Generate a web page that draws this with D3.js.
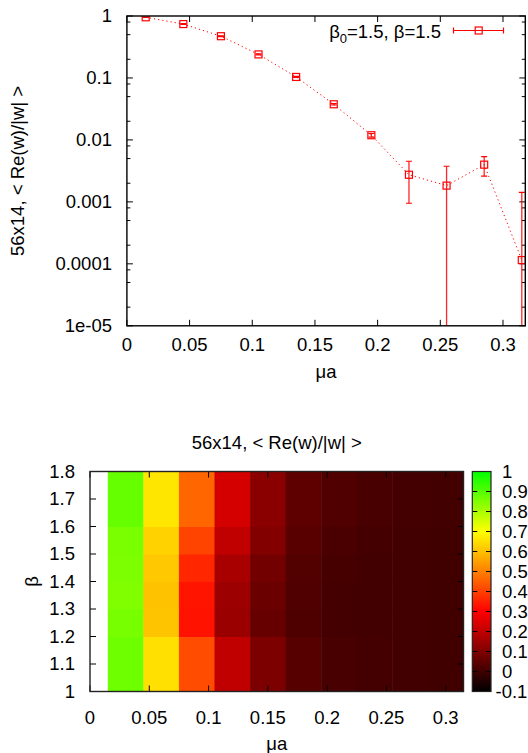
<!DOCTYPE html>
<html><head><meta charset="utf-8">
<script src="https://cdn.jsdelivr.net/npm/d3@7"></script>
<style>
body{margin:0;background:#fff}
text{font-family:"Liberation Sans",Arial,Helvetica,sans-serif;font-size:18.5px;fill:#000}
</style>
</head><body>
<svg id="c" width="528" height="753" xmlns="http://www.w3.org/2000/svg"></svg>
<script>
// ---------- data: top panel ----------
const muA      = [0.015,0.045,0.075,0.105,0.135,0.165,0.195,0.225,0.255,0.285,0.315];
const reW      = [0.953,0.741,0.472,0.240,0.1038,0.0376,0.0119,0.00274,0.00183,0.00399,0.000115];
const reWErr   = [0.006,0.010,0.008,0.005,0.0020,0.0010,0.0008,0.00179,0.00193,0.00138,0.00131];
const topYTicks  = [1,0.1,0.01,0.001,0.0001,0.00001];
const topYLabels = ["1","0.1","0.01","0.001","0.0001","1e-05"];
const xTicks     = [0,0.05,0.1,0.15,0.2,0.25,0.3];
const xLabels    = ["0","0.05","0.1","0.15","0.2","0.25","0.3"];
const legendLabel = ["β","0","=1.5, β=1.5"];
const yLabelText = "56x14, < Re(w)/|w| >";

// ---------- data: heat map ----------
const muEdges   = [0.015,0.045,0.075,0.105,0.135,0.165,0.195,0.225,0.255,0.285,0.315];
const betaEdges = [1.0,1.2,1.3,1.4,1.5,1.6,1.8];
// rows from bottom (beta 1.0-1.2) to top (beta 1.6-1.8), columns in mu order
const cellValues = [
  [0.870,0.651,0.419,0.201,0.095,0.035,0.013,0.007,0.004,0.001],
  [0.860,0.607,0.328,0.142,0.060,0.022,0.007,0.004,0.004,0.000],
  [0.850,0.604,0.331,0.145,0.066,0.025,0.007,0.004,0.004,0.000],
  [0.854,0.614,0.360,0.164,0.079,0.029,0.010,0.004,0.004,0.000],
  [0.856,0.630,0.407,0.201,0.104,0.038,0.016,0.007,0.004,0.001],
  [0.880,0.661,0.460,0.233,0.116,0.047,0.025,0.013,0.007,0.003]
];
const betaTicks  = [1,1.1,1.2,1.3,1.4,1.5,1.6,1.7,1.8];
const betaLabels = ["1","1.1","1.2","1.3","1.4","1.5","1.6","1.7","1.8"];
const cbTicks    = [1,0.9,0.8,0.7,0.6,0.5,0.4,0.3,0.2,0.1,0,-0.1];
const cbLabels   = ["1","0.9","0.8","0.7","0.6","0.5","0.4","0.3","0.2","0.1","0","-0.1"];
const paletteStops = [-0.1,0.3,0.7,1];
const paletteColors = ["#000000","#ff0000","#ffff00","#00ff00"];
const heatTitle = "56x14, < Re(w)/|w| >";

const svg = d3.select("#c");
const red = "#ff0000";

// ================= TOP PANEL =================
const T = {l:126.9, r:525.3, t:16, b:325.8};
const x1 = d3.scaleLinear().domain([0,0.3178]).range([T.l,T.r]);
const y1 = d3.scaleLog().domain([1e-5,1]).range([T.b,T.t]);

svg.append("clipPath").attr("id","clipTop").append("rect")
  .attr("x",T.l).attr("y",T.t).attr("width",T.r-T.l).attr("height",T.b-T.t);

const gTop = svg.append("g");
// ticks (mirrored, inward)
const minorVals = [];
for (let e=-5; e<0; e++) [2,5,8].forEach(m => minorVals.push(m*Math.pow(10,e)));
minorVals.forEach(v => {
  const yy = y1(v);
  gTop.append("line").attr("x1",T.l).attr("x2",T.l+3.5).attr("y1",yy).attr("y2",yy).attr("stroke","#000");
  gTop.append("line").attr("x1",T.r).attr("x2",T.r-3.5).attr("y1",yy).attr("y2",yy).attr("stroke","#000");
});
topYTicks.forEach((v,i) => {
  const yy = y1(v);
  gTop.append("line").attr("x1",T.l).attr("x2",T.l+6).attr("y1",yy).attr("y2",yy).attr("stroke","#000");
  gTop.append("line").attr("x1",T.r).attr("x2",T.r-6).attr("y1",yy).attr("y2",yy).attr("stroke","#000");
  gTop.append("text").attr("x",112).attr("y",yy).attr("dy","0.35em").attr("text-anchor","end").text(topYLabels[i]);
});
xTicks.forEach((v,i) => {
  const xx = x1(v);
  gTop.append("line").attr("x1",xx).attr("x2",xx).attr("y1",T.b).attr("y2",T.b-6).attr("stroke","#000");
  gTop.append("line").attr("x1",xx).attr("x2",xx).attr("y1",T.t).attr("y2",T.t+6).attr("stroke","#000");
  gTop.append("text").attr("x",xx).attr("y",351).attr("text-anchor","middle").text(xLabels[i]);
});
gTop.append("text").attr("x",(T.l+T.r)/2).attr("y",378).attr("text-anchor","middle").text("μa");
gTop.append("text").attr("transform","translate(24,171) rotate(-90)").attr("text-anchor","middle").text(yLabelText);

// data
const pts = muA.map((m,i)=>({x:m,v:reW[i],e:reWErr[i]}));
const gData = gTop.append("g").attr("clip-path","url(#clipTop)");
gData.append("path").datum(pts)
  .attr("d", d3.line().x(d=>x1(d.x)).y(d=>y1(d.v)))
  .attr("fill","none").attr("stroke",red).attr("stroke-width",1)
  .attr("stroke-dasharray","1.2,3");
pts.forEach(d => {
  const xx = x1(d.x);
  const yt = y1(d.v + d.e);
  const lo = d.v - d.e;
  const yb = lo > 0 ? y1(lo) : T.b + 5;
  gData.append("line").attr("x1",xx).attr("x2",xx).attr("y1",yt).attr("y2",yb)
    .attr("stroke",red).attr("stroke-width",1.3).attr("stroke-opacity",0.85);
  gData.append("line").attr("x1",xx-3).attr("x2",xx+3).attr("y1",yt).attr("y2",yt).attr("stroke",red).attr("stroke-width",1.2);
  if (lo > 0) gData.append("line").attr("x1",xx-3).attr("x2",xx+3).attr("y1",yb).attr("y2",yb).attr("stroke",red).attr("stroke-width",1.2);
  gData.append("rect").attr("x",xx-3.5).attr("y",y1(d.v)-3.5).attr("width",7).attr("height",7)
    .attr("fill","none").attr("stroke",red).attr("stroke-width",1.2);
});
// frame
gTop.append("rect").attr("x",T.l).attr("y",T.t).attr("width",T.r-T.l).attr("height",T.b-T.t)
  .attr("fill","none").attr("stroke","#000").attr("stroke-width",1.4);

// legend
const lg = gTop.append("g");
const lt = lg.append("text").attr("x",441).attr("y",37.5).attr("text-anchor","end");
lt.append("tspan").text(legendLabel[0]);
lt.append("tspan").attr("font-size","13px").attr("dy",5).text(legendLabel[1]);
lt.append("tspan").attr("dy",-5).text(legendLabel[2]);
lg.append("line").attr("x1",453.5).attr("x2",503.5).attr("y1",30.5).attr("y2",30.5).attr("stroke",red).attr("stroke-width",1.2);
[453.5,503.5].forEach(xx => lg.append("line").attr("x1",xx).attr("x2",xx).attr("y1",27.5).attr("y2",33.5).attr("stroke",red).attr("stroke-width",1.2));
lg.append("rect").attr("x",478.7-3.5).attr("y",27).attr("width",7).attr("height",7).attr("fill","none").attr("stroke",red).attr("stroke-width",1.2);

// ================= HEAT MAP =================
const H = {l:90, r:463.5, t:471.5, b:691.5};
const x2 = d3.scaleLinear().domain([0,0.315]).range([H.l,H.r]);
const y2 = d3.scaleLinear().domain([1,1.8]).range([H.b,H.t]);
const color = d3.scaleLinear().domain(paletteStops).range(paletteColors).interpolate(d3.interpolateRgb).clamp(true);

const gH = svg.append("g");
cellValues.forEach((row,ri) => {
  row.forEach((v,ci) => {
    gH.append("rect")
      .attr("x",x2(muEdges[ci])).attr("y",y2(betaEdges[ri+1]))
      .attr("width",x2(muEdges[ci+1])-x2(muEdges[ci])+0.5)
      .attr("height",y2(betaEdges[ri])-y2(betaEdges[ri+1])+0.5)
      .attr("fill",color(v));
  });
});
betaTicks.forEach((v,i) => {
  const yy = y2(v);
  gH.append("line").attr("x1",H.l).attr("x2",H.l+6).attr("y1",yy).attr("y2",yy).attr("stroke","#000");
  gH.append("line").attr("x1",H.r).attr("x2",H.r-6).attr("y1",yy).attr("y2",yy).attr("stroke","#000");
  gH.append("text").attr("x",75).attr("y",yy).attr("dy","0.35em").attr("text-anchor","end").text(betaLabels[i]);
});
xTicks.forEach((v,i) => {
  const xx = x2(v);
  gH.append("line").attr("x1",xx).attr("x2",xx).attr("y1",H.b).attr("y2",H.b-6).attr("stroke","#000");
  gH.append("line").attr("x1",xx).attr("x2",xx).attr("y1",H.t).attr("y2",H.t+6).attr("stroke","#000");
  gH.append("text").attr("x",xx).attr("y",724).attr("text-anchor","middle").text(xLabels[i]);
});
gH.append("rect").attr("x",H.l).attr("y",H.t).attr("width",H.r-H.l).attr("height",H.b-H.t)
  .attr("fill","none").attr("stroke","#222").attr("stroke-width",1.4);
gH.append("text").attr("x",(H.l+H.r)/2).attr("y",449).attr("text-anchor","middle").text(heatTitle);
gH.append("text").attr("x",(H.l+H.r)/2).attr("y",750).attr("text-anchor","middle").text("μa");
gH.append("text").attr("transform",`translate(38,${(H.t+H.b)/2}) rotate(-90)`).attr("text-anchor","middle").text("β");

// colour box
const C = {l:472.3, r:491, t:H.t, b:H.b};
const yc = d3.scaleLinear().domain([-0.1,1]).range([C.b,C.t]);
const grad = svg.append("defs").append("linearGradient").attr("id","cbgrad")
  .attr("x1",0).attr("y1",1).attr("x2",0).attr("y2",0);
paletteStops.forEach((s,i) => grad.append("stop")
  .attr("offset",(s+0.1)/1.1).attr("stop-color",paletteColors[i]));
gH.append("rect").attr("x",C.l).attr("y",C.t).attr("width",C.r-C.l).attr("height",C.b-C.t).attr("fill","url(#cbgrad)");
cbTicks.forEach((v,i) => {
  const yy = yc(v);
  gH.append("line").attr("x1",C.l).attr("x2",C.l+5).attr("y1",yy).attr("y2",yy).attr("stroke","#000");
  gH.append("line").attr("x1",C.r).attr("x2",C.r-5).attr("y1",yy).attr("y2",yy).attr("stroke","#000");
  gH.append("text").attr("x",v<0?495.5:502).attr("y",yy).attr("dy","0.35em").attr("text-anchor","start").text(cbLabels[i]);
});
gH.append("rect").attr("x",C.l).attr("y",C.t).attr("width",C.r-C.l).attr("height",C.b-C.t)
  .attr("fill","none").attr("stroke","#222").attr("stroke-width",1.2);
</script>
</body></html>
